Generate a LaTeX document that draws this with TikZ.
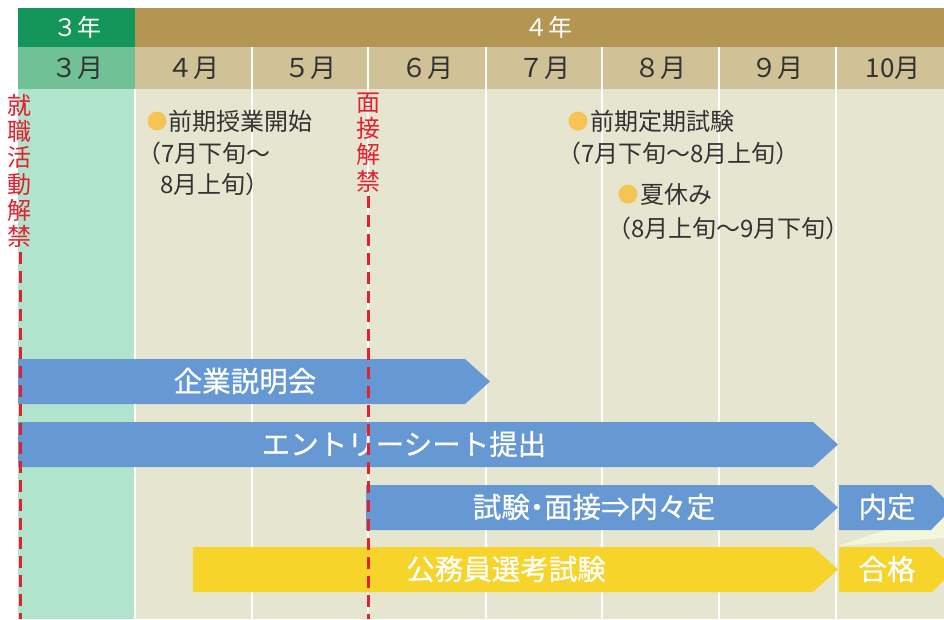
\documentclass[tikz,border=0pt]{standalone}
\usepackage{fontspec}
\setmainfont{Noto Sans CJK JP}
\newfontfamily\jpbar{Noto Sans CJK JP}[FakeBold=0.6]
\usetikzlibrary{calc}
\definecolor{hdrgreen}{RGB}{20,150,90}
\definecolor{hdrgold}{RGB}{180,150,82}
\definecolor{mongreen}{RGB}{112,194,150}
\definecolor{montan}{RGB}{208,194,150}
\definecolor{bodymint}{RGB}{176,228,204}
\definecolor{bodypale}{RGB}{230,230,208}
\definecolor{barblue}{RGB}{102,152,212}
\definecolor{baryellow}{RGB}{246,212,42}
\definecolor{dotorange}{RGB}{246,196,84}
\definecolor{txtgray}{RGB}{50,50,50}
\definecolor{banred}{RGB}{226,32,46}
\definecolor{wedgecream}{RGB}{244,246,220}
\begin{document}
\begin{tikzpicture}[x=1pt,y=-1pt,
  yearhdr/.style={font=\fontsize{24}{24}\selectfont, text=white, inner sep=0},
  monlbl/.style={font=\fontsize{26}{26}\selectfont, text=txtgray, inner sep=0},
  note/.style={font=\fontsize{24}{24}\selectfont, text=txtgray, anchor=west, inner sep=0},
  bartext/.style={font=\jpbar\fontsize{28.5}{28.5}\selectfont, text=white, inner sep=0},
  dotmark/.style={circle, fill=dotorange, minimum size=19pt, inner sep=0},
  colsep/.style={white, line width=2.5pt},
  redline/.style={draw=banred, line width=3pt, dash pattern=on 12pt off 7pt},
  vtext/.style={font=\fontsize{24}{26.3}\selectfont, align=center, inner sep=0, text=banred},
]
\useasboundingbox (0,0) rectangle (944,619);
\begin{scope}
\clip (0,0) rectangle (944,619);
% backgrounds
\fill[hdrgreen] (18,8) rectangle (135,47);
\fill[hdrgold] (135,8) rectangle (944,47);
\fill[mongreen] (18,47) rectangle (135,89);
\fill[montan] (135,47) rectangle (944,89);
\fill[bodymint] (18,89) rectangle (135,619);
\fill[bodypale] (135,89) rectangle (944,619);
\foreach \x in {252,368,486,602,719,836} \draw[colsep] (\x,47) -- (\x,619);
\draw[colsep] (135,89) -- (135,619);
% headers
\node[yearhdr] (y3) at (77,27) {３年};
\node[yearhdr] (y4) at (548,27) {４年};
\node[monlbl] (m3) at (77,68) {３月};
\node[monlbl] (m4) at (193.5,68) {４月};
\node[monlbl] (m5) at (310,68) {５月};
\node[monlbl] (m6) at (427,68) {６月};
\node[monlbl] (m7) at (544,68) {７月};
\node[monlbl] (m8) at (660.5,68) {８月};
\node[monlbl] (m9) at (777.5,68) {９月};
\node[monlbl] (m10) at (893,68) {10月};
% notes
\node[dotmark] (d1) at (157,121) {};
\node[note] (n1) at (168,121) {前期授業開始};
\node[note] (n1b) at (137,153) {（7月下旬～};
\node[note] (n1c) at (160,184) {8月上旬）};
\node[dotmark] (d2) at (578,121) {};
\node[note] (n2) at (590,121) {前期定期試験};
\node[note] (n2b) at (557,153) {（7月下旬～8月上旬）};
\node[dotmark] (d3) at (628,194) {};
\node[note] (n3) at (640,194) {夏休み};
\node[note] (n3b) at (607,228) {（8月上旬～9月下旬）};
% wedge
\fill[wedgecream] (838,546) -- (944,510) -- (944,538) -- cycle;
% bars
\fill[barblue] (18,359) -- (465,359) -- (490,381.5) -- (465,404) -- (18,404) -- cycle;
\node[bartext] (b1) at (245,381) {企業説明会};
\fill[barblue] (18,422) -- (813,422) -- (838,444.5) -- (813,467) -- (18,467) -- cycle;
\node[bartext] (b2) at (404,444) {エントリーシート提出};
\fill[barblue] (366,485) -- (813,485) -- (838,507.5) -- (813,530) -- (366,530) -- cycle;
\node[bartext] (b3) at (594,507) {試験\kern-0.25em・\kern-0.25em面接⇒内々定};
\fill[barblue] (839,485) -- (931,485) -- (953,507.5) -- (931,530) -- (839,530) -- cycle;
\node[bartext] (b4) at (887,507) {内定};
\fill[baryellow] (193,547) -- (813,547) -- (838,569.5) -- (813,592) -- (193,592) -- cycle;
\node[bartext] (b5) at (506,569) {公務員選考試験};
\fill[baryellow] (839,547) -- (932,547) -- (955,569.5) -- (932,592) -- (839,592) -- cycle;
\node[bartext] (b6) at (887,569) {合格};
% red labels
\node[vtext] (lab1) at (20,171) {就\\職\\活\\動\\解\\禁};
\node[vtext] (lab2) at (368,142.5) {面\\接\\解\\禁};
\coordinate (end1) at (20,619);
\coordinate (end2) at (368,619);
\draw[redline] ([yshift=-4pt]lab1.south) -- (end1);
\draw[redline] ([yshift=-4pt]lab2.south) -- (end2);
\end{scope}
\end{tikzpicture}
\end{document}
